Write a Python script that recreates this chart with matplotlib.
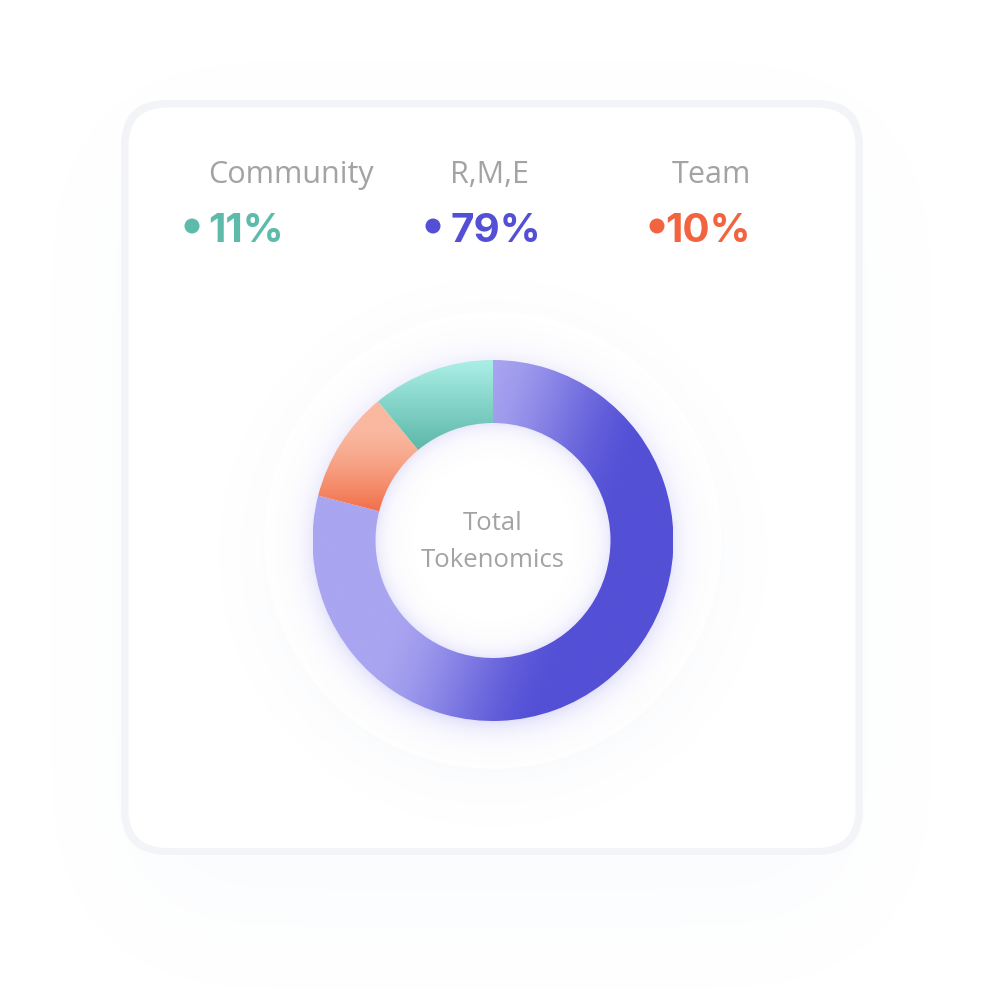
import numpy as np
import matplotlib.pyplot as plt
from matplotlib.patches import FancyBboxPatch, Circle

# ---- data ----
categories = ["R,M,E", "Team", "Community"]
values = [79, 10, 11]
pct_labels = ["79%", "10%", "11%"]
center_lines = ["Total", "Tokenomics"]

W, H = 984, 996
FONT = "Open Sans"
NUMFONT = "Inter"

fig = plt.figure(figsize=(W / 100, H / 100), dpi=100)
fig.patch.set_facecolor("white")
bg = fig.add_axes([0, 0, 1, 1])
bg.set_xlim(0, W)
bg.set_ylim(H, 0)
bg.axis("off")

yy, xx = np.mgrid[0:H, 0:W] + 0.5


def blur(img, sigma):
    pad = int(4 * sigma)
    p = np.pad(img, pad)
    h, w = p.shape
    fy = np.fft.fftfreq(h)[:, None]
    fx = np.fft.fftfreq(w)[None, :]
    g = np.exp(-2 * (np.pi * sigma) ** 2 * (fx ** 2 + fy ** 2))
    out = np.real(np.fft.ifft2(np.fft.fft2(p) * g))
    return out[pad:pad + img.shape[0], pad:pad + img.shape[1]]


def rrect_mask(x0, y0, x1, y1, r):
    cx, cy = (x0 + x1) / 2, (y0 + y1) / 2
    hx, hy = (x1 - x0) / 2 - r, (y1 - y0) / 2 - r
    qx = np.abs(xx - cx) - hx
    qy = np.abs(yy - cy) - hy
    d = np.hypot(np.maximum(qx, 0), np.maximum(qy, 0)) + np.minimum(np.maximum(qx, qy), 0) - r
    return (d < 0).astype(float)


def overlay(alpha, color, z):
    rgba = np.zeros((H, W, 4))
    rgba[..., :3] = color
    rgba[..., 3] = np.clip(alpha, 0, 1)
    bg.imshow(rgba, extent=(0, W, H, 0), zorder=z, interpolation="bilinear")


# card shadow (soft, mostly below)
card_sh = blur(rrect_mask(140, 150, 843, 900, 60), 55)
overlay(card_sh * 0.075, (0.70, 0.80, 0.94), 0)

# card
bg.add_patch(FancyBboxPatch((121, 100), 742, 755, boxstyle="round,pad=0,rounding_size=46",
                            fc="#f3f4f8", ec="none", zorder=1))
bg.add_patch(FancyBboxPatch((128.5, 107.5), 727, 740.5, boxstyle="round,pad=0,rounding_size=39",
                            fc="white", ec="none", zorder=2))

# background circle & soft shadow
cx, cy = 493, 540.5
dist = np.hypot(xx - cx, yy - (cy + 12))
circ_sh = blur((dist < 235).astype(float), 30)
card_in = rrect_mask(128.5, 107.5, 855.5, 848, 39)
overlay(circ_sh * 0.045 * card_in, (0.55, 0.62, 0.82), 3)
bg.add_patch(Circle((cx, cy), 228.5, fc="white", ec="none", zorder=4))

# donut glow
R_out, R_in = 180.5, 117.5
d1 = np.hypot(xx - cx, yy - cy)
d0 = np.hypot(xx - cx, yy - (cy + 5))
outer_glow = np.where(d1 > R_out - 2, 0.20 * np.exp(-np.maximum(d0 - R_out + 4, 0) / 13.0), 0)
inner_glow = np.where(d1 < R_in + 2, 0.16 * np.exp(-(R_in - d1) / 10.0), 0)
overlay(outer_glow + inner_glow, (0.45, 0.42, 0.92), 5)

# ---- donut via pie ----
ax = fig.add_axes([(cx - R_out) / W, (H - cy - R_out) / H, 2 * R_out / W, 2 * R_out / H])
ax.axis("off")
wedges, _ = ax.pie(values, radius=1, startangle=90, counterclock=False,
                   wedgeprops=dict(width=1 - R_in / R_out, linewidth=0))

n = 600
gy, gx = np.mgrid[-1:1:n * 1j, -1:1:n * 1j]


def lerp(c1, c2, s):
    c1 = np.array(plt.matplotlib.colors.to_rgb(c1))
    c2 = np.array(plt.matplotlib.colors.to_rgb(c2))
    return c1[None, None, :] * (1 - s[..., None]) + c2[None, None, :] * s[..., None]


t = 0.94 * gx - 0.34 * gy
s_p = np.clip((t + 0.40) / 1.0, 0, 1)
s_p = s_p * s_p * (3 - 2 * s_p)
s_o = np.clip((0.62 - gy) / 0.45, 0, 1) ** 1.4
s_t = np.clip((0.98 - gy) / 0.48, 0, 1)
grads = [lerp("#a9a5f0", "#5450d6", s_p),
         lerp("#f9b89f", "#f2704a", s_o),
         lerp("#a8ede5", "#5bb7a7", s_t)]

for w, g in zip(wedges, grads):
    w.set_facecolor("none")
    w.set_edgecolor("none")
    im = ax.imshow(g, extent=(-1, 1, -1, 1), origin="lower", interpolation="bilinear", zorder=1)
    im.set_clip_path(w)
ax.set_xlim(-1, 1)
ax.set_ylim(-1, 1)

# ---- legend texts ----
label_color = "#a3a3a3"
colors = {"R,M,E": "#5450d6", "Team": "#f26440", "Community": "#5ebbab"}
layout = {"Community": (208, "left", 192),
          "R,M,E": (450, "left", 433),
          "Team": (751, "right", 657)}
for cat, pct in zip(categories, pct_labels):
    x, ha, dx = layout[cat]
    bg.text(x, 183, cat, ha=ha, va="baseline", fontsize=22, color=label_color,
            family=FONT, zorder=10)
    bg.text(x, 242, pct, ha=ha, va="baseline", fontsize=29, color=colors[cat],
            family=NUMFONT, fontweight="bold", zorder=10)
    bg.add_patch(Circle((dx, 226), 7.5, fc=colors[cat], ec="none", zorder=10))

bg.text(cx, 530, center_lines[0], ha="center", va="baseline", fontsize=18.5,
        color="#a3a3a3", family=FONT, zorder=10)
bg.text(cx, 567, center_lines[1], ha="center", va="baseline", fontsize=18.5,
        color="#a3a3a3", family=FONT, zorder=10)

fig.savefig("out.png", dpi=100)
